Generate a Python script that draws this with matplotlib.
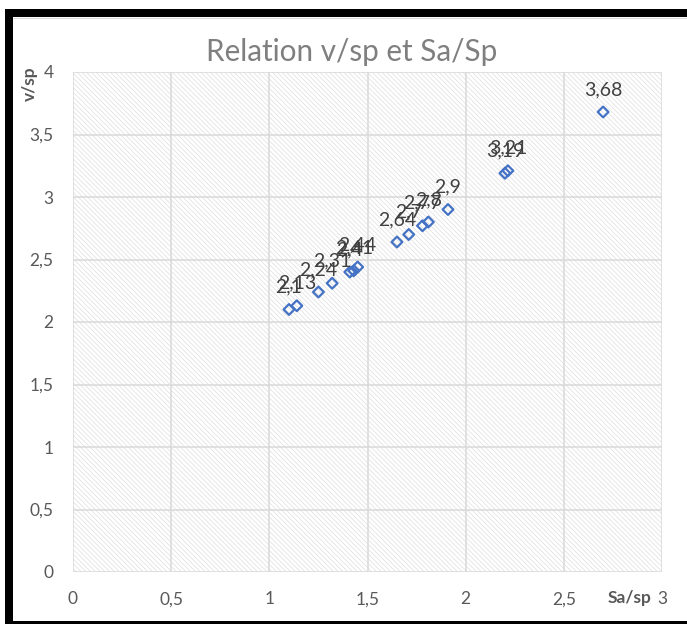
import matplotlib.pyplot as plt
from matplotlib.patches import Rectangle
from matplotlib.ticker import FuncFormatter

# values
sa_sp = [1.10, 1.14, 1.25, 1.32, 1.41, 1.43, 1.45, 1.65, 1.71, 1.78, 1.81, 1.91, 2.20, 2.215, 2.70]
v_sp = [2.10, 2.13, 2.24, 2.31, 2.40, 2.41, 2.44, 2.64, 2.70, 2.77, 2.80, 2.90, 3.19, 3.21, 3.68]

x_ticks = [0, 0.5, 1, 1.5, 2, 2.5, 3]
y_ticks = [0, 0.5, 1, 1.5, 2, 2.5, 3, 3.5, 4]

title = "Relation v/sp et Sa/Sp"
blue = "#4472C4"
grey_txt = "#595959"

plt.rcParams['font.family'] = ['Lato', 'DejaVu Sans']
plt.rcParams['hatch.linewidth'] = 0.5


def fr(v):
    # french decimal comma
    s = ("%g" % v)
    return s.replace(".", ",")


fig = plt.figure(figsize=(6.87, 6.24), dpi=100)
W, H = 687, 624
ax = fig.add_axes([73 / W, 1 - 572 / H, (662 - 73) / W, (572 - 72) / H])

# hatched plot area
bg = Rectangle((0, 0), 1, 1, transform=ax.transAxes, facecolor="white",
               edgecolor="#dedede", hatch="\\" * 7, linewidth=0, zorder=0)
ax.add_patch(bg)

ax.scatter(sa_sp, v_sp, marker="D", s=30, facecolors="none", edgecolors=blue,
           linewidths=1.6, zorder=3)
for x, y in zip(sa_sp, v_sp):
    ax.annotate(fr(y), (x, y), xytext=(0, 17), textcoords="offset pixels",
                ha="center", va="baseline", fontsize=14, color="#404040", zorder=4)

ax.set_xlim(0, 3)
ax.set_ylim(0, 4)
ax.set_xticks(x_ticks)
ax.set_yticks(y_ticks)
ax.xaxis.set_major_formatter(FuncFormatter(lambda v, p: fr(v)))
ax.yaxis.set_major_formatter(FuncFormatter(lambda v, p: fr(v)))
ax.tick_params(length=0, labelsize=12.5, colors=grey_txt)
ax.tick_params(axis="x", pad=14)
ax.tick_params(axis="y", pad=14)
ax.grid(True, color="#d9d9d9", linewidth=1.1)
ax.set_axisbelow(True)
for sp in ax.spines.values():
    sp.set_visible(False)

fig.text(352 / W, 1 - 52 / H, title, ha="center", va="center", fontsize=21.3, color="#7f7f7f")
fig.text(30 / W, 1 - 84 / H, "v/sp", rotation=90, ha="center", va="center",
         fontsize=12.5, fontweight="bold", color=grey_txt)
fig.text(630 / W, 1 - 598 / H, "Sa/sp", ha="center", va="center",
         fontsize=12.5, fontweight="bold", color=grey_txt)

# black frame around the chart
fig.add_artist(Rectangle((5 / W, 1 - 17 / H), 1, 8 / H, transform=fig.transFigure,
                         facecolor="black", edgecolor="none"))
fig.add_artist(Rectangle((5 / W, 0), 8 / W, 1 - 9 / H, transform=fig.transFigure,
                         facecolor="black", edgecolor="none"))
fig.add_artist(Rectangle((5 / W, 0), 1, 3 / H, transform=fig.transFigure,
                         facecolor="black", edgecolor="none"))
fig.add_artist(Rectangle((13 / W, 1 - 19 / H), 1, 1.5 / H, transform=fig.transFigure,
                         facecolor="#d9d9d9", edgecolor="none"))

fig.savefig("out.png", dpi=100)
